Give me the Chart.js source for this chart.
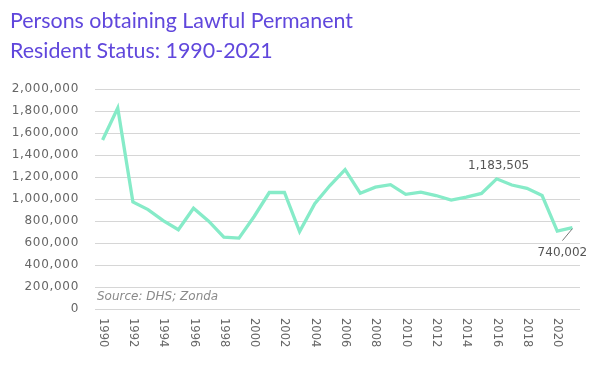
<!DOCTYPE html>
<html>
<head>
<meta charset="utf-8">
<script src="https://cdn.jsdelivr.net/npm/chart.js@4/dist/chart.umd.min.js"></script>
<style>
  html, body { margin: 0; padding: 0; background: #ffffff; }
  #wrap { position: relative; width: 598px; height: 366px; }
</style>
</head>
<body>
<div id="wrap"><canvas id="c" width="598" height="366"></canvas></div>
<script>
const titleLines = ["Persons obtaining Lawful Permanent", "Resident Status: 1990-2021"];
const years = ["1990","1991","1992","1993","1994","1995","1996","1997","1998","1999","2000","2001","2002","2003","2004","2005","2006","2007","2008","2009","2010","2011","2012","2013","2014","2015","2016","2017","2018","2019","2020","2021"];
const persons = [1535872,1826595,973977,903916,803993,720177,915560,797847,653206,644787,841002,1058902,1059356,703542,957883,1122257,1266129,1052415,1107126,1130818,1042625,1062040,1031631,990553,1016518,1051031,1183505,1127167,1096611,1031765,707362,740002];
const xTickLabels = ["1990","1992","1994","1996","1998","2000","2002","2004","2006","2008","2010","2012","2014","2016","2018","2020"];
const yTicks = [0,200000,400000,600000,800000,1000000,1200000,1400000,1600000,1800000,2000000];
const annotatedYears = ["2016","2021"];
const sourceText = "Source: DHS; Zonda";

const FAM = '"DejaVu Sans", sans-serif';
const fmt = v => Number(v).toLocaleString('en-US');

const spacing = {
  id: 'spacing',
  beforeDraw(chart) { chart.ctx.letterSpacing = '0.7px'; },
  afterDraw(chart) { chart.ctx.letterSpacing = '0px'; }
};

const extras = {
  id: 'extras',
  afterDraw(chart) {
    const ctx = chart.ctx;
    const xs = chart.scales.x, ys = chart.scales.y;
    ctx.save();
    ctx.letterSpacing = '0px';
    // title
    ctx.fillStyle = '#6047dc';
    ctx.font = '21.4px Lato, sans-serif';
    ctx.textAlign = 'left';
    ctx.textBaseline = 'alphabetic';
    ctx.fillText(titleLines[0], 10, 28);
    ctx.fillText(titleLines[1], 10, 58);
    // x tick labels, rotated clockwise
    ctx.fillStyle = '#666666';
    ctx.font = '11.5px ' + FAM;
    xTickLabels.forEach(lbl => {
      const i = years.indexOf(lbl);
      const px = xs.getPixelForValue(i);
      ctx.save();
      ctx.translate(px, ys.bottom + 9);
      ctx.rotate(Math.PI / 2);
      ctx.textAlign = 'left';
      ctx.textBaseline = 'middle';
      ctx.fillText(lbl, 0, 0);
      ctx.restore();
    });
    // source
    ctx.fillStyle = '#8a8a8a';
    ctx.font = 'italic 12px ' + FAM;
    ctx.textAlign = 'left';
    ctx.textBaseline = 'middle';
    ctx.fillText(sourceText, xs.left + 2, ys.getPixelForValue(100000) - 1);
    // annotations
    ctx.fillStyle = '#555555';
    ctx.font = '12px ' + FAM;
    const i1 = years.indexOf(annotatedYears[0]);
    const p1x = xs.getPixelForValue(i1), p1y = ys.getPixelForValue(persons[i1]);
    ctx.textAlign = 'center';
    ctx.textBaseline = 'alphabetic';
    ctx.fillText(fmt(persons[i1]), p1x + 2, p1y - 10);
    const i2 = years.indexOf(annotatedYears[1]);
    const p2x = xs.getPixelForValue(i2), p2y = ys.getPixelForValue(persons[i2]);
    ctx.strokeStyle = '#777777';
    ctx.lineWidth = 1;
    ctx.beginPath();
    ctx.moveTo(p2x, p2y + 1);
    ctx.lineTo(p2x - 10, p2y + 13);
    ctx.stroke();
    ctx.textBaseline = 'middle';
    ctx.fillText(fmt(persons[i2]), p2x - 10, p2y + 25);
    ctx.restore();
  }
};

new Chart(document.getElementById('c'), {
  type: 'line',
  data: {
    labels: years,
    datasets: [{
      data: persons,
      borderColor: '#86ebc8',
      borderWidth: 3.3,
      pointRadius: 0,
      tension: 0,
      fill: false
    }]
  },
  options: {
    responsive: false,
    animation: false,
    layout: { padding: { top: 89, bottom: 57, right: 18, left: 0 } },
    plugins: { legend: { display: false }, tooltip: { enabled: false } },
    scales: {
      x: {
        display: false,
        offset: true
      },
      y: {
        min: 0,
        max: 2000000,
        afterFit(scale) { scale.width = 95; },
        afterBuildTicks(scale) { scale.ticks = yTicks.map(v => ({ value: v })); },
        ticks: {
          color: '#666666',
          font: { family: FAM, size: 12 },
          padding: 16,
          callback: v => fmt(v)
        },
        grid: { color: '#d6d6d6', lineWidth: 1, drawTicks: false },
        border: { display: false }
      }
    }
  },
  plugins: [spacing, extras]
});
</script>
</body>
</html>
